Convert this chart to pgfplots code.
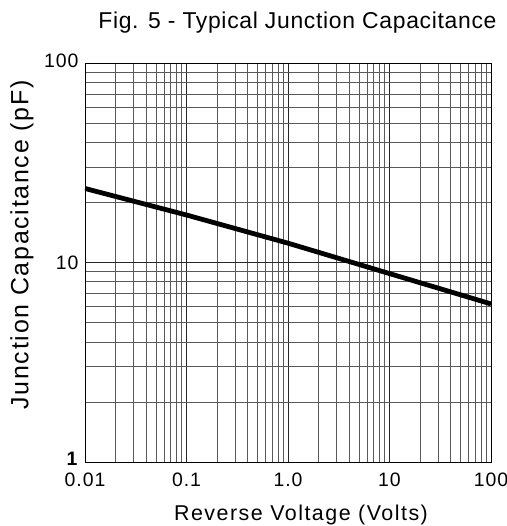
\documentclass[border=0pt]{standalone}
\usepackage{fontspec}
\setmainfont{Liberation Sans}
\newfontfamily\titlefont[LetterSpace=3]{Liberation Sans}
\newfontfamily\labelfont[LetterSpace=7]{Liberation Sans}
\newfontfamily\tickfont[LetterSpace=5]{Liberation Sans}
\usepackage{pgfplots}
\pgfplotsset{compat=1.18}
\begin{document}
\begin{tikzpicture}
\begin{axis}[
  name=main,
  scale only axis,
  width=406bp, height=399bp,
  xmode=log, ymode=log,
  xmin=0.01, xmax=100, ymin=1, ymax=100,
  xtick={0.01,0.1,1,10,100},
  xticklabels={0.01,0.1,1.0,10,100},
  minor xtick={0.02,0.03,0.04,0.05,0.06,0.07,0.08,0.09,
               0.2,0.3,0.4,0.5,0.6,0.7,0.8,0.9,
               2,3,4,5,6,7,8,9,20,30,40,50,60,70,80,90},
  ytick={1,10,100},
  yticklabels={\raisebox{6bp}{\textbf{1}},10,\raisebox{5bp}{100}},
  minor ytick={2,3,4,5,6,7,8,9,20,30,40,50,60,70,80,90},
  grid=both,
  major grid style={black!85, line width=0.75bp},
  minor grid style={black!65, line width=0.75bp},
  axis line style={black, line width=0.8bp},
  major tick length=0pt, minor tick length=0pt,
  tick label style={font=\tickfont\fontsize{19.5}{19.5}\selectfont},
  xticklabel style={anchor=base, yshift=-24bp},
  yticklabel style={xshift=-3bp},
  xlabel={Reverse Voltage (Volts)},
  ylabel={Junction Capacitance (pF)},
  xlabel style={font=\labelfont\fontsize{21.5}{21.5}\selectfont,
    at={(rel axis cs:0.5,0)}, anchor=base, yshift=-58bp, xshift=13bp},
  ylabel style={font=\labelfont\fontsize{25}{25}\selectfont,
    at={(rel axis cs:0,0.544)}, anchor=center, yshift=63bp},
]
\addplot[black, line width=4.8bp] coordinates {
  (0.01,23.5) (0.1,17.3) (1,12.5) (10,8.8) (100,6.2)
};
\end{axis}
\node[anchor=base east, font=\titlefont\fontsize{23}{23}\selectfont]
  at ([xshift=9bp,yshift=34bp]main.north east) {Fig. 5 - Typical Junction Capacitance};
\pgfresetboundingbox
\path ([xshift=-85bp,yshift=-64bp]main.south west) rectangle ([xshift=16bp,yshift=63bp]main.north east);
\end{tikzpicture}
\end{document}
